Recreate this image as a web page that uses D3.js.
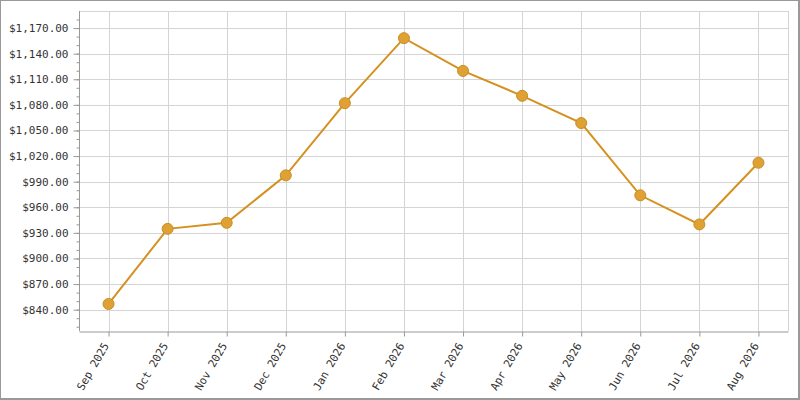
<!DOCTYPE html>
<html>
<head>
<meta charset="utf-8">
<script src="https://cdn.jsdelivr.net/npm/d3@7"></script>
<style>
  body { margin: 0; background: #fff; }
  svg { display: block; }
</style>
</head>
<body>
<div id="chart"></div>
<script>
const width = 800;
const height = 400;

// data
const months = ['Sep 2025', 'Oct 2025', 'Nov 2025', 'Dec 2025', 'Jan 2026', 'Feb 2026',
  'Mar 2026', 'Apr 2026', 'May 2026', 'Jun 2026', 'Jul 2026', 'Aug 2026'];
const prices = [846.7, 934.7, 941.8, 997.4, 1082, 1158.2, 1119.8, 1090.6, 1058.7, 974, 939.9, 1012.2];
const yTicks = [840, 870, 900, 930, 960, 990, 1020, 1050, 1080, 1110, 1140, 1170];

const margin = { top: 11, right: 12, bottom: 69, left: 79 };
const font = '"DejaVu Sans Mono", monospace';

const svg = d3.select('#chart')
  .append('svg')
  .attr('width', width)
  .attr('height', height);

svg.append('rect')
  .attr('width', width)
  .attr('height', height)
  .attr('fill', '#fff');

const x = d3.scalePoint()
  .domain(months)
  .range([margin.left, width - margin.right])
  .padding(0.5);

const y = d3.scaleLinear()
  .domain([815, 1190])
  .range([height - margin.bottom, margin.top]);

const fmt = d3.format('$,.2f');

// grid
const grid = svg.append('g').attr('stroke', '#d4d4d4').attr('shape-rendering', 'crispEdges');
grid.selectAll('.h')
  .data(yTicks)
  .join('line')
  .attr('x1', margin.left)
  .attr('x2', width - margin.right)
  .attr('y1', (d) => Math.round(y(d)) + 0.5)
  .attr('y2', (d) => Math.round(y(d)) + 0.5);
grid.selectAll('.v')
  .data(months)
  .join('line')
  .attr('x1', (d) => Math.round(x(d)) + 0.5)
  .attr('x2', (d) => Math.round(x(d)) + 0.5)
  .attr('y1', margin.top)
  .attr('y2', height - margin.bottom);
// top and right edges of the plot
grid.append('line')
  .attr('x1', margin.left).attr('x2', width - margin.right)
  .attr('y1', margin.top + 0.5).attr('y2', margin.top + 0.5);
grid.append('line')
  .attr('x1', width - margin.right + 0.5).attr('x2', width - margin.right + 0.5)
  .attr('y1', margin.top).attr('y2', height - margin.bottom);

// y axis: minor ticks every 10
const yMinor = d3.axisLeft(y)
  .tickValues(d3.range(820, 1190, 10))
  .tickSize(3)
  .tickFormat('');
svg.append('g')
  .attr('transform', `translate(${margin.left + 0.5},0)`)
  .call(yMinor)
  .call((g) => g.select('.domain').remove())
  .call((g) => g.selectAll('line').attr('stroke', '#999'));

const yAxis = d3.axisLeft(y)
  .tickValues(yTicks)
  .tickSize(6)
  .tickPadding(5)
  .tickFormat(fmt);
svg.append('g')
  .attr('transform', `translate(${margin.left + 0.5},0)`)
  .call(yAxis)
  .call((g) => g.select('.domain').attr('stroke', '#999').attr('d', `M0,${margin.top}V${height - margin.bottom}`))
  .call((g) => g.selectAll('line').attr('stroke', '#999'))
  .call((g) => g.selectAll('text')
    .attr('fill', '#333')
    .style('font-family', font)
    .style('font-size', '11px'));

// x axis
const xAxis = d3.axisBottom(x).tickSize(5).tickSizeOuter(0);
svg.append('g')
  .attr('transform', `translate(0,${height - margin.bottom + 0.5})`)
  .call(xAxis)
  .call((g) => g.select('.domain').attr('stroke', '#999'))
  .call((g) => g.selectAll('line').attr('stroke', '#999'))
  .call((g) => g.selectAll('text')
    .attr('fill', '#333')
    .attr('text-anchor', 'end')
    .attr('transform', 'translate(-3,12) rotate(-60)')
    .attr('y', 0)
    .attr('dy', '0.35em')
    .style('font-family', font)
    .style('font-size', '11px'));

// line and points
const line = d3.line()
  .x((d, i) => x(months[i]))
  .y((d) => y(d));

svg.append('path')
  .datum(prices)
  .attr('fill', 'none')
  .attr('stroke', '#d4911f')
  .attr('stroke-width', 2)
  .attr('d', line);

svg.append('g')
  .selectAll('circle')
  .data(prices)
  .join('circle')
  .attr('cx', (d, i) => x(months[i]))
  .attr('cy', (d) => y(d))
  .attr('r', 5.5)
  .attr('fill', '#e0a134')
  .attr('stroke', '#c98d22')
  .attr('stroke-width', 1);

// outer frame
svg.append('path')
  .attr('fill', 'none')
  .attr('stroke', '#999')
  .attr('shape-rendering', 'crispEdges')
  .attr('d', `M0.5,0.5H${width - 1.5}V${height - 1.5}H0.5Z M${width - 0.5},0V${height} M0,${height - 0.5}H${width}`);
</script>
</body>
</html>
